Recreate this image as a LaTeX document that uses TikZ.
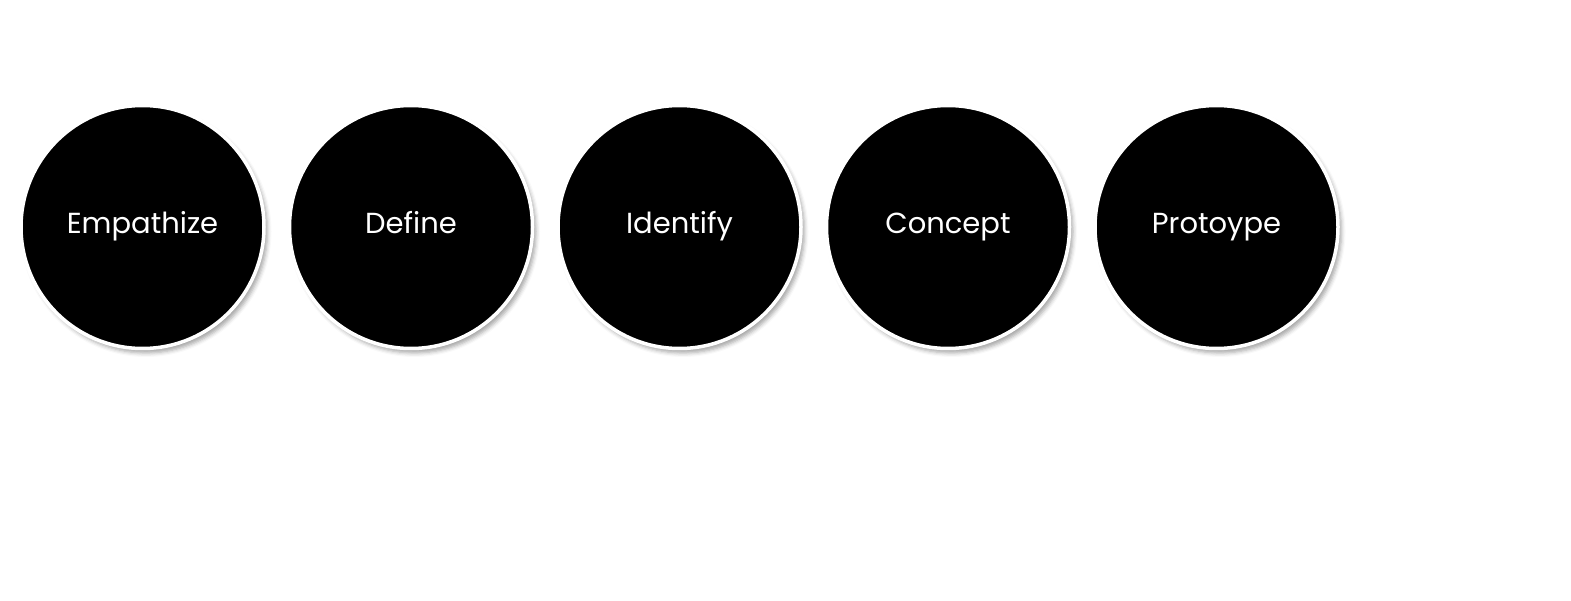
\documentclass[tikz,border=0pt]{standalone}
\usepackage{fontspec}
\setmainfont{Poppins}
\usetikzlibrary{shadows.blur}

\tikzset{
    stage/.style={circle, minimum size=4.86cm, inner sep=0pt, fill=black, draw=white,
        line width=0.07cm, text=white, font=\fontsize{16.5}{19}\selectfont,
        text height=1.3ex, text depth=0.05ex,
        blur shadow={shadow xshift=0.07cm, shadow yshift=-0.09cm, shadow blur radius=0.08cm, shadow opacity=35}}
}

\begin{document}
\begin{tikzpicture}
            % Fix the page size
            \useasboundingbox (0,0) rectangle (31.42,12);

            % Draw the stages of the process
            \foreach \i/\name/\label in {0/empathize/Empathize, 1/define/Define, 2/identify/Identify,
                3/concept/Concept, 4/prototype/Protoype}
                {
                    \node[stage] (\name) at (2.85+5.37*\i,7.46) {\label};
                }

        \end{tikzpicture}
\end{document}
